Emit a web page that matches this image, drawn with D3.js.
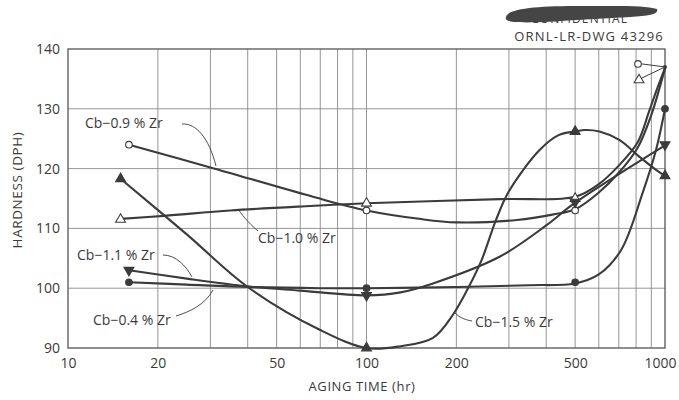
<!DOCTYPE html>
<html>
<head>
<meta charset="utf-8">
<script src="https://cdn.jsdelivr.net/npm/d3@7"></script>
<style>
  html, body { margin: 0; padding: 0; background: #fff; }
  svg { display: block; }
  text { font-family: "Open Sans", "DejaVu Sans", sans-serif; fill: #3a3a3a; }
</style>
</head>
<body>
<svg id="chart" width="679" height="400"></svg>
<script>
// Measured aging times (hr); the triangle series were plotted at 15 hr
const hoursCircle = [16, 100, 500, 1000];
const hoursTriangle = [15, 100, 500, 1000];

// Measured hardness (DPH) for each alloy
const hard04 = [101, 100, 101, 130];
const hard09 = [124, 113, 113, 137];
const hard10 = [111.5, 114.2, 115, 137];
const hard11 = [103, 98.8, 114.4, 124];
const hard15 = [118.3, 90, 126.2, 118.8];

// Hand-faired curves through the data: [hours, hardness]
const fit04 = [[16,101],[25,100.6],[40,100.2],[70,100],[100,100],[200,100.2],[350,100.5],[500,100.8],[600,102.3],[713,106.4],[841,115.9],[933,123.1],[1000,130]];
const fit09 = [[16,124],[30,120.2],[65,115.4],[100,113],[150,111.6],[200,111],[319,111.4],[420,112.3],[500,113.2],[600,116],[700,119.3],[810,123.5],[900,129],[1000,136.8]];
const fit10 = [[15,111.6],[21,112.1],[35,113],[65,113.75],[100,114.2],[280,114.9],[500,115.3],[600,117.4],[700,120.5],[810,124.4],[885,129.6],[940,133.3],[1000,136.8]];
const fit11 = [[16,103],[25,101.6],[40,100.3],[60,99.6],[100,98.8],[130,99.3],[167,100.8],[280,105.3],[400,110.5],[500,114.3],[1000,123.9]];
const fit15 = [[15,118.3],[25,109],[40,100.2],[70,93],[100,90],[130,90.3],[167,91.7],[195,95.6],[220,100.2],[243,104.7],[272,111.5],[300,116.2],[380,123.1],[440,125.6],[500,126.2],[540,126.45],[603,126.2],[703,124.8],[820,122],[933,119.8],[1000,118.8]];

// Axis ticks and grid
const xTickLabels = [10, 20, 50, 100, 200, 500, 1000];
const xGrid = [20,30,40,50,60,70,80,90,100,200,300,400,500,600,700,800,900];
const yTickLabels = [90, 100, 110, 120, 130, 140];
const yGrid = [100, 110, 120, 130];

const alloyNames = ["Cb−0.4 % Zr", "Cb−0.9 % Zr", "Cb−1.0 % Zr", "Cb−1.1 % Zr", "Cb−1.5 % Zr"];

const svg = d3.select("#chart");
const ink = "#3b3b3b";

const x = d3.scaleLog().domain([10, 1000]).range([68, 665]);
const y = d3.scaleLinear().domain([90, 140]).range([348, 49]);

// grid
const grid = svg.append("g").attr("stroke", "#8a8a8a").attr("stroke-width", 0.9);
grid.selectAll("line.v").data(xGrid).join("line")
  .attr("x1", d => x(d)).attr("x2", d => x(d))
  .attr("y1", y(140)).attr("y2", y(90));
grid.selectAll("line.h").data(yGrid).join("line")
  .attr("x1", x(10)).attr("x2", x(1000))
  .attr("y1", d => y(d)).attr("y2", d => y(d));

// frame
svg.append("rect")
  .attr("x", x(10)).attr("y", y(140))
  .attr("width", x(1000) - x(10)).attr("height", y(90) - y(140))
  .attr("fill", "none").attr("stroke", "#555").attr("stroke-width", 1.3);

// axes (labels only)
const xAxis = d3.axisBottom(x).tickValues(xTickLabels).tickFormat(d3.format("d")).tickSize(0).tickPadding(10);
const gx = svg.append("g").attr("transform", `translate(0,${y(90)})`).call(xAxis);
gx.select(".domain").remove();
gx.selectAll("text").style("font-size", "14px").attr("fill", ink)
  .attr("dx", d => d === 1000 ? -5 : 0);

const yAxis = d3.axisLeft(y).tickValues(yTickLabels).tickSize(0).tickPadding(8);
const gy = svg.append("g").attr("transform", `translate(${x(10)},0)`).call(yAxis);
gy.select(".domain").remove();
gy.selectAll("text").style("font-size", "14px").attr("fill", ink);

svg.append("text").attr("x", 362).attr("y", 391).attr("text-anchor", "middle")
  .style("font-size", "13px").style("letter-spacing", "0.6px").text("AGING TIME (hr)");
svg.append("text").attr("transform", "translate(22,190) rotate(-90)").attr("text-anchor", "middle")
  .style("font-size", "13.5px").style("letter-spacing", "0.6px").text("HARDNESS (DPH)");

// drawing number and stamp
svg.append("text").attr("x", 664).attr("y", 41).attr("text-anchor", "end")
  .style("font-size", "13px").style("letter-spacing", "1.2px").text("ORNL-LR-DWG 43296");
svg.append("text").attr("x", 628).attr("y", 23).attr("text-anchor", "end")
  .style("font-size", "12px").style("letter-spacing", "1.1px").text("CONFIDENTIAL");
svg.append("path")
  .attr("d", "M506,17 C508,8 540,6 580,6 C615,6 645,5 657,9 C659,14 650,16 630,17 C610,18 595,19 575,20 C550,22 528,23 514,22 C507,21 505,20 506,17 Z")
  .attr("fill", "#454545");

// faired curves
const line = d3.line().x(d => x(d[0])).y(d => y(d[1])).curve(d3.curveCatmullRom.alpha(0.5));
const curves = svg.append("g").attr("fill", "none").attr("stroke", ink).attr("stroke-width", 2.1)
  .attr("stroke-linecap", "round");
[fit04, fit09, fit10, fit11, fit15].forEach(f => curves.append("path").attr("d", line(f)));

// markers
const triUp = d3.symbol().type(d3.symbolTriangle).size(42);
const circ = d3.symbol().type(d3.symbolCircle).size(34);
function drawMarkers(hours, vals, kind, skipLast) {
  const pts = hours.map((h, i) => [h, vals[i]]).filter((d, i) => !(skipLast && i === hours.length - 1));
  const g = svg.append("g");
  g.selectAll("path").data(pts).join("path")
    .attr("transform", d => `translate(${x(d[0])},${y(d[1])})${kind === "down" ? " rotate(180)" : ""}`)
    .attr("d", kind === "circle" || kind === "ocircle" ? circ() : triUp())
    .attr("fill", kind === "ocircle" || kind === "otri" ? "#fff" : ink)
    .attr("stroke", ink).attr("stroke-width", 1.1);
}
drawMarkers(hoursCircle, hard04, "circle");
drawMarkers(hoursCircle, hard09, "ocircle", true);
drawMarkers(hoursTriangle, hard10, "otri", true);
drawMarkers(hoursCircle, hard11, "down");
drawMarkers(hoursTriangle, hard15, "tri");

// coincident 1000-hr points for 0.9 and 1.0 % Zr: symbols set aside with leaders
const px = x(1000), py = y(hard09[3]);
svg.append("circle").attr("cx", px).attr("cy", py).attr("r", 2).attr("fill", ink);
const lead = svg.append("g").attr("stroke", ink).attr("stroke-width", 1);
lead.append("line").attr("x1", px - 23).attr("y1", py - 3).attr("x2", px).attr("y2", py);
lead.append("line").attr("x1", px - 23).attr("y1", py + 11).attr("x2", px).attr("y2", py);
svg.append("path").attr("transform", `translate(${px - 27},${py - 3})`).attr("d", circ())
  .attr("fill", "#fff").attr("stroke", ink).attr("stroke-width", 1.1);
svg.append("path").attr("transform", `translate(${px - 26},${py + 13})`).attr("d", triUp())
  .attr("fill", "#fff").attr("stroke", ink).attr("stroke-width", 1.1);

// curve labels with leaders
const labels = [
  { t: alloyNames[1], x: 85,  y: 128, lead: "M182,124 C196,123 209,138 216,166" },
  { t: alloyNames[2], x: 258, y: 243, lead: "M258,231 C252,226 244,218 238,209" },
  { t: alloyNames[3], x: 77,  y: 260, lead: "M163,255 C176,255 186,266 192,277" },
  { t: alloyNames[0], x: 93,  y: 325, lead: "M176,316 C189,312 205,305 213,290" },
  { t: alloyNames[4], x: 475, y: 327, lead: "M472,321 C466,320 460,318 455,313" }
];
labels.forEach(l => {
  svg.append("text").attr("x", l.x).attr("y", l.y).style("font-size", "14px").text(l.t);
  svg.append("path").attr("d", l.lead).attr("fill", "none").attr("stroke", ink).attr("stroke-width", 0.9);
});
</script>
</body>
</html>
